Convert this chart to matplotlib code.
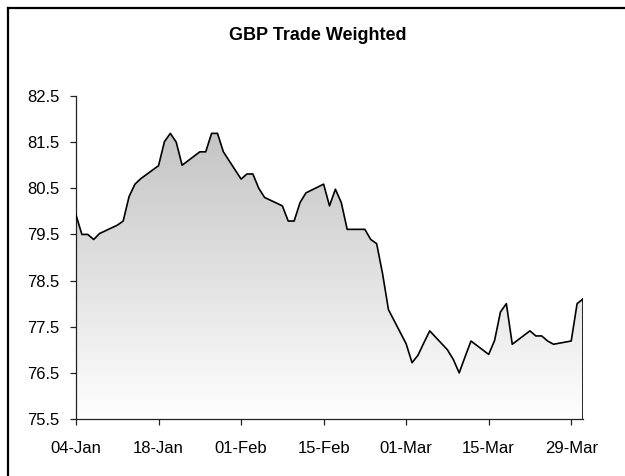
import numpy as np
import pandas as pd
import matplotlib
matplotlib.use("Agg")
import matplotlib.pyplot as plt
import matplotlib.dates as mdates
from matplotlib.lines import Line2D

plt.rcParams["font.family"] = ["Liberation Sans", "DejaVu Sans"]

# business days, Q1 2010
JAN_DAYS = [4, 5, 6, 7, 8, 11, 12, 13, 14, 15, 18, 19, 20, 21, 22, 25, 26, 27, 28, 29]
FEB_DAYS = [1, 2, 3, 4, 5, 8, 9, 10, 11, 12, 15, 16, 17, 18, 19, 22, 23, 24, 25, 26]
MAR_DAYS = [1, 2, 3, 4, 5, 8, 9, 10, 11, 12, 15, 16, 17, 18, 19, 22, 23, 24, 25, 26, 29, 30, 31]

JAN_VALS = [79.92, 79.50, 79.50, 79.39, 79.52, 79.70, 79.79, 80.32, 80.59, 80.71,
            80.99, 81.51, 81.69, 81.50, 81.00, 81.29, 81.29, 81.69, 81.69, 81.29]
FEB_VALS = [80.70, 80.81, 80.81, 80.50, 80.30, 80.12, 79.79, 79.79, 80.19, 80.40,
            80.59, 80.12, 80.48, 80.19, 79.61, 79.61, 79.39, 79.30, 78.65, 77.87]
MAR_VALS = [77.13, 76.72, 76.88, 77.15, 77.41, 77.00, 76.79, 76.50, 76.85, 77.19,
            76.90, 77.20, 77.82, 78.00, 77.12, 77.41, 77.30, 77.30, 77.19, 77.12,
            77.19, 78.00, 78.10]

TICK_DATES = ["2010-01-04", "2010-01-18", "2010-02-01", "2010-02-15",
              "2010-03-01", "2010-03-15", "2010-03-29"]
Y_TICKS = [75.5, 76.5, 77.5, 78.5, 79.5, 80.5, 81.5, 82.5]

dates = pd.to_datetime(
    [f"2010-01-{d:02d}" for d in JAN_DAYS]
    + [f"2010-02-{d:02d}" for d in FEB_DAYS]
    + [f"2010-03-{d:02d}" for d in MAR_DAYS]
)
values = np.array(JAN_VALS + FEB_VALS + MAR_VALS)
ymin, ymax = Y_TICKS[0], Y_TICKS[-1]

fig = plt.figure(figsize=(6.25, 4.76), dpi=100)
ax = fig.add_axes([76 / 625, 1 - 419 / 476, (583 - 76) / 625, (419 - 96) / 476])

x = mdates.date2num(dates)
poly = ax.fill_between(x, values, ymin, facecolor="none", edgecolor="none")

# vertical grey -> white gradient, clipped to the area under the curve
g = np.linspace(1.0, 0.74, 256)
img = np.dstack([g, g, g]).reshape(256, 1, 3)
im = ax.imshow(img, extent=[x[0], x[-1], ymin, ymax], origin="lower",
               aspect="auto", interpolation="bilinear", zorder=1)
im.set_clip_path(poly.get_paths()[0], transform=ax.transData)

ax.plot(x, values, color="black", lw=1.2, zorder=3)
ax.plot([x[-1], x[-1]], [ymin, values[-1]], color="black", lw=1.2, zorder=3)

ax.set_xlim(x[0], x[-1])
ax.set_ylim(ymin, ymax)
ax.set_yticks(Y_TICKS)
ax.set_yticklabels([f"{v:.1f}" for v in Y_TICKS])
ax.set_xticks(mdates.date2num(pd.to_datetime(TICK_DATES)))
ax.xaxis.set_major_formatter(mdates.DateFormatter("%d-%b"))

for side in ("top", "right"):
    ax.spines[side].set_visible(False)
for side in ("left", "bottom"):
    ax.spines[side].set_color("#222222")
    ax.spines[side].set_linewidth(0.9)
ax.tick_params(axis="both", direction="out", length=4, width=0.9,
               color="#222222", labelsize=12)
ax.tick_params(axis="y", pad=8)
ax.tick_params(axis="x", pad=12)

fig.text(0.508, 1 - 35 / 476, "GBP Trade Weighted", ha="center", va="center",
         fontsize=13, fontweight="bold")

# chart frame: only top and left edges fall inside the image
fx, fy = 7.5 / 625, 1 - 8 / 476
fig.add_artist(Line2D([fx, fx], [0, fy], transform=fig.transFigure,
                      color="black", lw=1.6))
fig.add_artist(Line2D([fx, 1], [fy, fy], transform=fig.transFigure,
                      color="black", lw=1.6))

fig.savefig("out.png", dpi=100)
